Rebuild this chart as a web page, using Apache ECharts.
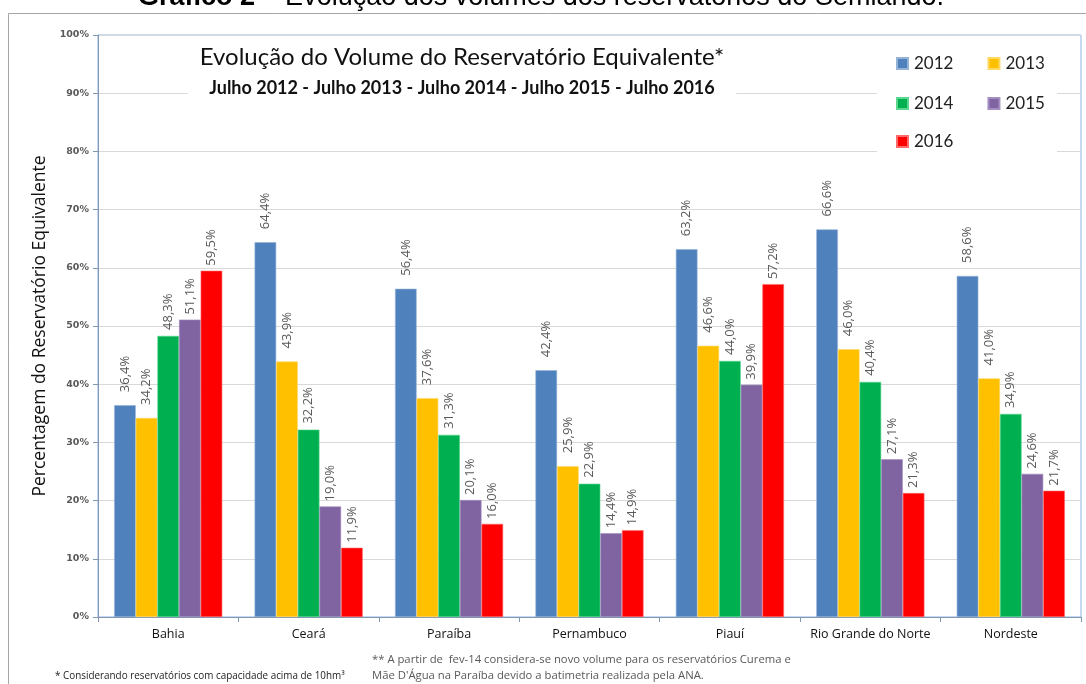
<!DOCTYPE html>
<html>
<head>
<meta charset="utf-8">
<script src="https://cdn.jsdelivr.net/npm/echarts@6/dist/echarts.min.js"></script>
<style>
  html, body { margin: 0; padding: 0; background: #fff; }
  #chart { width: 1086px; height: 684px; }
</style>
</head>
<body>
<div id="chart"></div>
<script>
// Reservoir volume (% of equivalent reservoir), July of each year
const categories = ['Bahia', 'Ceará', 'Paraíba', 'Pernambuco', 'Piauí', 'Rio Grande do Norte', 'Nordeste'];
const years = ['2012', '2013', '2014', '2015', '2016'];
const v2012 = [36.4, 64.4, 56.4, 42.4, 63.2, 66.6, 58.6];
const v2013 = [34.2, 43.9, 37.6, 25.9, 46.6, 46.0, 41.0];
const v2014 = [48.3, 32.2, 31.3, 22.9, 44.0, 40.4, 34.9];
const v2015 = [51.1, 19.0, 20.1, 14.4, 39.9, 27.1, 24.6];
const v2016 = [59.5, 11.9, 16.0, 14.9, 57.2, 21.3, 21.7];
const yMin = 0, yMax = 100, yStep = 10;

const values = [v2012, v2013, v2014, v2015, v2016];
const colors = ['#4F81BD', '#FFC000', '#00B050', '#8064A2', '#FF0000'];
const borders = ['#95B3D7', '#FFD966', '#5BD68F', '#A28FC0', '#FF6B6B'];
const labelShift = [8, 8, 1, 0, 0];

const pct = v => v.toFixed(1).replace('.', ',') + '%';

const chart = echarts.init(document.getElementById('chart'), null, { renderer: 'canvas' });

const series = years.map((y, i) => ({
  name: y,
  type: 'bar',
  data: values[i],
  barGap: '0%',
  barCategoryGap: '23%',
  z: 3,
  itemStyle: { color: colors[i], borderColor: borders[i], borderWidth: 0.6 },
  label: {
    show: true,
    position: 'top',
    rotate: 90,
    align: 'left',
    verticalAlign: 'middle',
    distance: 5,
    offset: [labelShift[i], 0],
    color: '#595959',
    fontFamily: 'Open Sans',
    fontSize: 13,
    formatter: p => pct(p.value)
  }
}));

const legendBase = {
  orient: 'horizontal',
  padding: 0,
  itemWidth: 11,
  itemHeight: 11,
  itemGap: 34,
  icon: 'rect',
  selectedMode: false,
  textStyle: { fontFamily: 'Lato', fontSize: 17, color: '#222', width: 40, padding: [0, 0, 0, 1] }
};

const option = {
  animation: false,
  backgroundColor: '#fff',
  title: {
    text: 'Evolução do Volume do Reservatório Equivalente*',
    subtext: 'Julho 2012 - Julho 2013 - Julho 2014 - Julho 2015 - Julho 2016',
    left: 450,
    top: 41,
    textAlign: 'center',
    itemGap: 10,
    padding: [4, 12, 6, 12],
    backgroundColor: '#fff',
    textStyle: { fontFamily: 'Lato', fontSize: 24, fontWeight: 'normal', color: '#111' },
    subtextStyle: { fontFamily: 'Lato', fontSize: 18, fontWeight: 'bold', color: '#111' }
  },
  legend: [
    Object.assign({}, legendBase, { data: ['2012', '2013'], left: 896, top: 55 }),
    Object.assign({}, legendBase, { data: ['2014', '2015'], left: 896, top: 95 }),
    Object.assign({}, legendBase, { data: ['2016'], left: 896, top: 133 })
  ],
  grid: { left: 98, right: 5, top: 35, bottom: 67, show: true, borderColor: '#8DB3E2', borderWidth: 1, containLabel: false },
  xAxis: {
    type: 'category',
    data: categories,
    axisLine: { lineStyle: { color: '#8497B0' } },
    axisTick: { show: true, length: 5, lineStyle: { color: '#8497B0' } },
    axisLabel: { interval: 0, margin: 11, fontFamily: 'Open Sans', fontSize: 12.5, color: '#111' }
  },
  yAxis: {
    type: 'value',
    min: yMin,
    max: yMax,
    interval: yStep,
    name: 'Percentagem do Reservatório Equivalente',
    nameLocation: 'middle',
    nameGap: 46,
    nameTextStyle: { fontFamily: 'Open Sans', fontSize: 17.5, color: '#111' },
    axisLine: { show: true, lineStyle: { color: '#8497B0' } },
    axisTick: { show: true, length: 5, lineStyle: { color: '#8497B0' } },
    axisLabel: { formatter: '{value}%', margin: 9, fontFamily: 'DejaVu Sans', fontSize: 9.5, fontWeight: 'bold', color: '#595959' },
    splitLine: { lineStyle: { color: '#D9D9D9', width: 1 } }
  },
  graphic: [
    { type: 'rect', z: 0, silent: true, shape: { x: 8.5, y: 13.5, width: 1100, height: 700 }, style: { fill: 'none', stroke: '#A6A6A6', lineWidth: 1 } },
    { type: 'rect', z: 1, silent: true, shape: { x: 877, y: 42, width: 180, height: 116 }, style: { fill: '#fff' } },
    {
      type: 'text', z: 5, x: 541, y: 11,
      style: {
        text: '{b|Gráfico 2} – Evolução dos volumes dos reservatórios do Semiárido.',
        align: 'center', verticalAlign: 'bottom',
        font: '27px "Liberation Sans"', fill: '#000',
        rich: { b: { fontWeight: 'bold', fontSize: 27, fontFamily: 'Liberation Sans' } }
      }
    },
    {
      type: 'text', z: 5, x: 55, y: 676,
      style: { text: '* Considerando reservatórios com capacidade acima de 10hm³', verticalAlign: 'middle', font: '9.9px "Open Sans"', fill: '#222' }
    },
    {
      type: 'text', z: 5, x: 372, y: 660,
      style: { text: '** A partir de  fev-14 considera-se novo volume para os reservatórios Curema e', verticalAlign: 'middle', font: '11.3px "Open Sans"', fill: '#595959' }
    },
    {
      type: 'text', z: 5, x: 372, y: 676,
      style: { text: 'Mãe D\'Água na Paraíba devido a batimetria realizada pela ANA.', verticalAlign: 'middle', font: '11.3px "Open Sans"', fill: '#595959' }
    }
  ],
  series: series
};

chart.setOption(option);
</script>
</body>
</html>
